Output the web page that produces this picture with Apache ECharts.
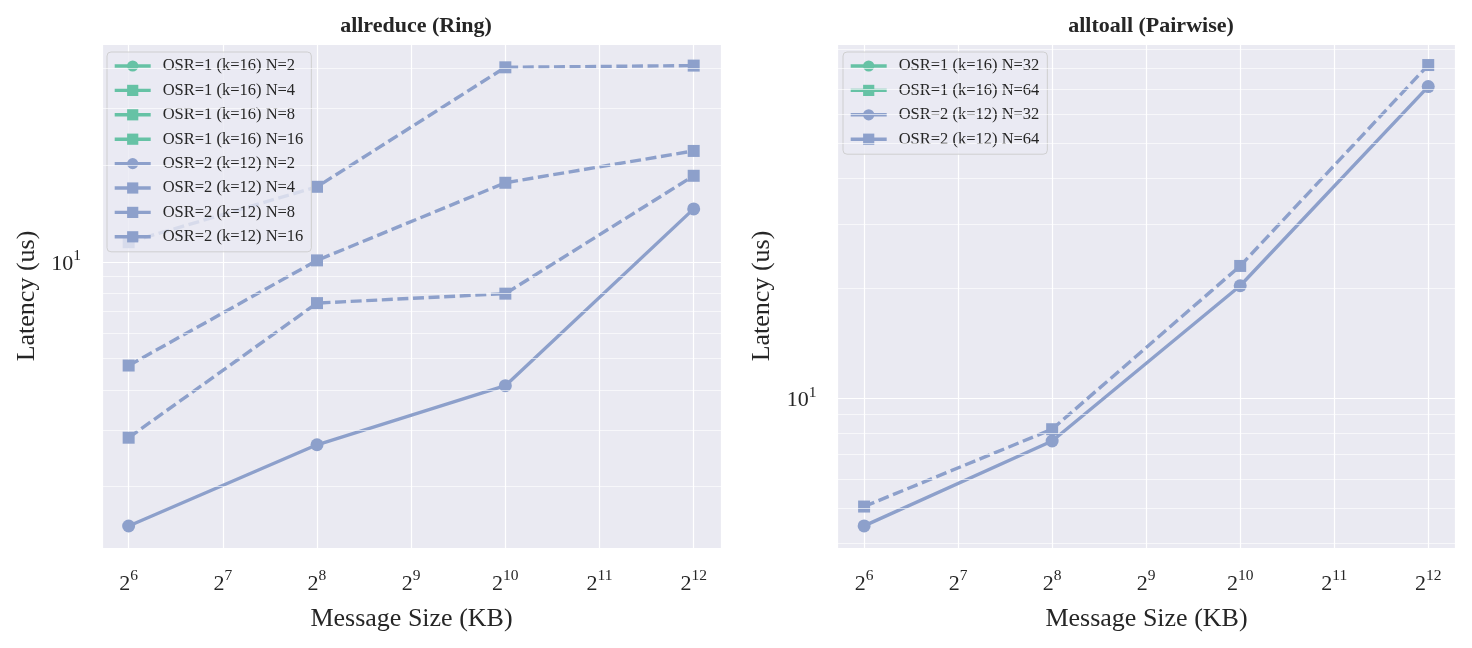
<!DOCTYPE html>
<html><head><meta charset="utf-8">
<script src="https://cdn.jsdelivr.net/npm/echarts@6/dist/echarts.min.js"></script>
<style>html,body{margin:0;padding:0;background:#fff}#c{width:1472px;height:648px}</style>
</head><body><div id="c"></div>
<script>
// ---- data ----
const messageSizesKB = [64, 256, 1024, 4096];

const allreduceNames = [
  'OSR=1 (k=16) N=2', 'OSR=1 (k=16) N=4', 'OSR=1 (k=16) N=8', 'OSR=1 (k=16) N=16',
  'OSR=2 (k=12) N=2', 'OSR=2 (k=12) N=4', 'OSR=2 (k=12) N=8', 'OSR=2 (k=12) N=16'
];
const allreduceOsr1N2 = [];
const allreduceOsr1N4 = [];
const allreduceOsr1N8 = [];
const allreduceOsr1N16 = [];
const allreduceOsr2N2 = [1.51, 2.70, 4.12, 14.6];
const allreduceOsr2N4 = [2.84, 7.44, 7.96, 18.5];
const allreduceOsr2N8 = [4.76, 10.1, 17.6, 22.1];
const allreduceOsr2N16 = [11.5, 17.1, 40.2, 40.7];

const alltoallNames = [
  'OSR=1 (k=16) N=32', 'OSR=1 (k=16) N=64', 'OSR=2 (k=12) N=32', 'OSR=2 (k=12) N=64'
];
const alltoallOsr1N32 = [];
const alltoallOsr1N64 = [];
const alltoallOsr2N32 = [4.46, 7.62, 20.3, 71.3];
const alltoallOsr2N64 = [5.04, 8.21, 23.0, 81.7];

const leftMinorGrid = [2, 3, 4, 5, 6, 7, 8, 9, 20, 30, 40];
const rightMinorGrid = [4, 5, 6, 7, 8, 9, 20, 30, 40, 50, 60, 70, 80, 90];

// ---- styling ----
const FONT = '"Liberation Serif", "DejaVu Serif", serif';
const TXT = '#262626';
const GREEN = '#66c2a5';
const BLUE = '#8da0cb';
const BG = '#eaeaf2';

const xMin = Math.pow(2, 5.717), xMax = Math.pow(2, 12.29);

function xAxisCfg(gi) {
  return {
    type: 'log', logBase: 2, gridIndex: gi, min: xMin, max: xMax,
    axisLine: {show: false}, axisTick: {show: false},
    splitLine: {show: true, lineStyle: {color: '#ffffff', width: 1.2}},
    axisLabel: {
      showMinLabel: false, showMaxLabel: false, margin: 20,
      formatter: v => '{b|2}{s|' + Math.round(Math.log2(v)) + '}',
      rich: {
        b: {fontFamily: FONT, fontSize: 22, color: TXT, lineHeight: 27, verticalAlign: 'bottom'},
        s: {fontFamily: FONT, fontSize: 15.5, color: TXT, lineHeight: 15, verticalAlign: 'top'}
      }
    },
    name: 'Message Size (KB)', nameLocation: 'middle', nameGap: 58,
    nameTextStyle: {fontFamily: FONT, fontSize: 26, color: TXT}
  };
}
function yAxisCfg(gi, mn, mx) {
  return {
    type: 'log', logBase: 10, gridIndex: gi, min: mn, max: mx,
    axisLine: {show: false}, axisTick: {show: false},
    splitLine: {show: true, lineStyle: {color: '#ffffff', width: 1.2}},
    axisLabel: {
      showMinLabel: false, showMaxLabel: false, margin: 21,
      formatter: v => '{b|10}{s|' + Math.round(Math.log10(v)) + '}',
      rich: {
        b: {fontFamily: FONT, fontSize: 22, color: TXT, lineHeight: 27, verticalAlign: 'bottom'},
        s: {fontFamily: FONT, fontSize: 15.5, color: TXT, lineHeight: 15, verticalAlign: 'top'}
      }
    },
    name: 'Latency (us)', nameLocation: 'middle', nameGap: 62, nameRotate: 90,
    nameTextStyle: {fontFamily: FONT, fontSize: 26, color: TXT}
  };
}

function lineSeries(name, values, gi, color, dashed, symbol) {
  return {
    name: name, type: 'line', xAxisIndex: gi, yAxisIndex: gi,
    data: values.map((v, i) => [messageSizesKB[i], v]),
    symbol: symbol, symbolSize: symbol === 'circle' ? 13 : 12,
    showSymbol: true,
    lineStyle: {color: color, width: 3.4, type: dashed ? [11, 4.6] : 'solid'},
    itemStyle: {color: color, borderColor: color, borderWidth: 0, opacity: 1},
    animation: false, z: 3
  };
}
function minorGridSeries(gi, values) {
  return {
    type: 'line', xAxisIndex: gi, yAxisIndex: gi, data: [], z: 1, silent: true,
    markLine: {
      silent: true, symbol: ['none', 'none'], label: {show: false}, animation: false,
      lineStyle: {color: 'rgba(255,255,255,0.7)', width: 0.9, type: 'solid'},
      emphasis: {disabled: true},
      data: values.map(v => ({yAxis: v}))
    }
  };
}
function legendCfg(names, left) {
  return {
    data: names, orient: 'vertical', left: left, top: 52,
    backgroundColor: 'rgba(234,234,242,0.8)', borderColor: 'rgba(204,204,204,0.9)',
    borderWidth: 1, borderRadius: 4, padding: [5, 8, 6, 6],
    itemWidth: 36, itemHeight: 14, itemGap: 6.4,
    lineStyle: {type: 'solid', width: 3.4},
    selectedMode: false,
    textStyle: {fontFamily: FONT, fontSize: 16.5, color: TXT, lineHeight: 18, padding: [0, 0, 0, 7]}
  };
}

const series = [
  lineSeries(allreduceNames[0], allreduceOsr1N2, 0, GREEN, false, 'circle'),
  lineSeries(allreduceNames[1], allreduceOsr1N4, 0, GREEN, true, 'rect'),
  lineSeries(allreduceNames[2], allreduceOsr1N8, 0, GREEN, true, 'rect'),
  lineSeries(allreduceNames[3], allreduceOsr1N16, 0, GREEN, true, 'rect'),
  lineSeries(allreduceNames[4], allreduceOsr2N2, 0, BLUE, false, 'circle'),
  lineSeries(allreduceNames[5], allreduceOsr2N4, 0, BLUE, true, 'rect'),
  lineSeries(allreduceNames[6], allreduceOsr2N8, 0, BLUE, true, 'rect'),
  lineSeries(allreduceNames[7], allreduceOsr2N16, 0, BLUE, true, 'rect'),
  lineSeries(alltoallNames[0], alltoallOsr1N32, 1, GREEN, false, 'circle'),
  lineSeries(alltoallNames[1], alltoallOsr1N64, 1, GREEN, true, 'rect'),
  lineSeries(alltoallNames[2], alltoallOsr2N32, 1, BLUE, false, 'circle'),
  lineSeries(alltoallNames[3], alltoallOsr2N64, 1, BLUE, true, 'rect'),
  minorGridSeries(0, leftMinorGrid),
  minorGridSeries(1, rightMinorGrid)
];

const chart = echarts.init(document.getElementById('c'), null, {renderer: 'canvas'});
chart.setOption({
  animation: false,
  backgroundColor: '#ffffff',
  title: [
    {text: 'allreduce (Ring)', left: 411, top: 10, textAlign: 'center',
     textStyle: {fontFamily: FONT, fontWeight: 'bold', fontSize: 22, color: TXT}},
    {text: 'alltoall (Pairwise)', left: 1146, top: 10, textAlign: 'center',
     textStyle: {fontFamily: FONT, fontWeight: 'bold', fontSize: 22, color: TXT}}
  ],
  grid: [
    {left: 102, top: 44, width: 619, height: 504, show: true, backgroundColor: BG, borderWidth: 0},
    {left: 837.5, top: 44, width: 618, height: 504, show: true, backgroundColor: BG, borderWidth: 0}
  ],
  xAxis: [xAxisCfg(0), xAxisCfg(1)],
  yAxis: [yAxisCfg(0, 1.29, 47.5), yAxisCfg(1, 3.88, 93.3)],
  legend: [legendCfg(allreduceNames, 107), legendCfg(alltoallNames, 843)],
  series: series
});
</script>
</body></html>
